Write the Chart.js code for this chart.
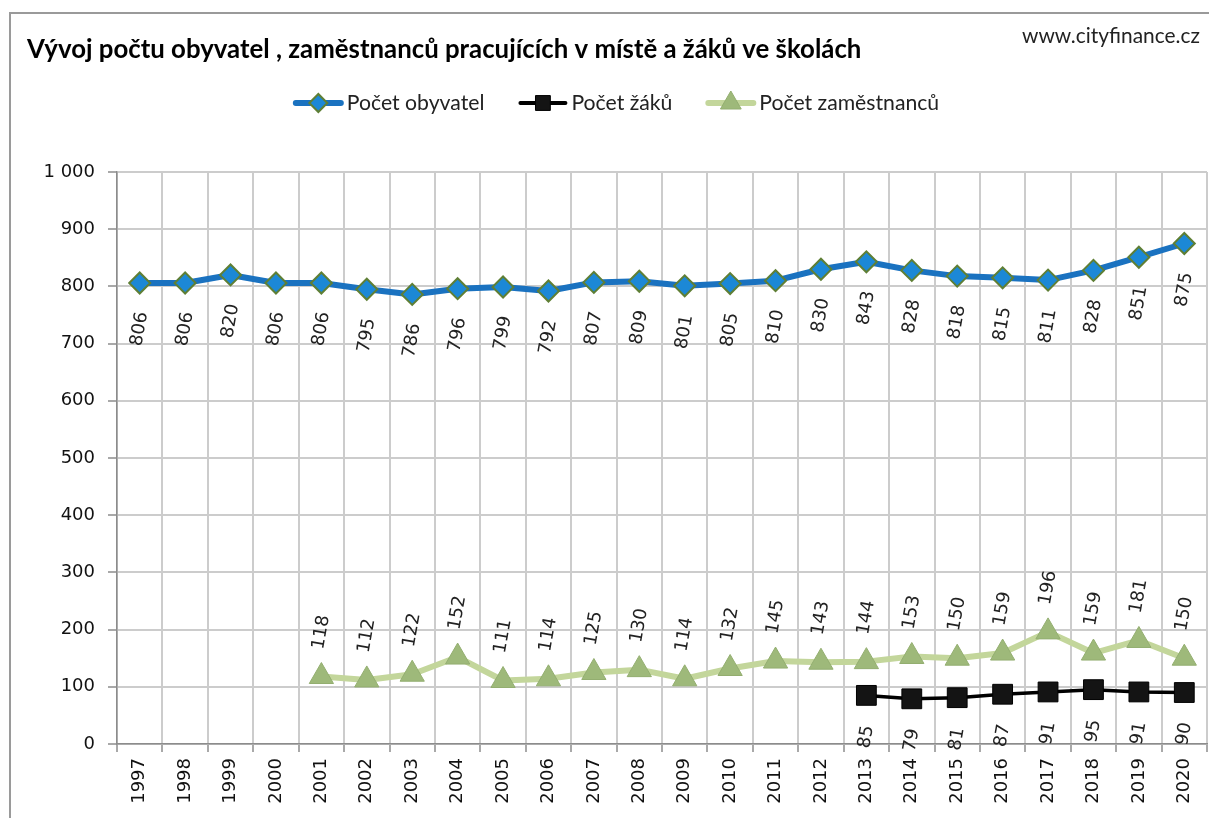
<!DOCTYPE html>
<html>
<head>
<meta charset="utf-8">
<script src="https://cdn.jsdelivr.net/npm/chart.js@4.4.1/dist/chart.umd.min.js"></script>
<style>
html,body{margin:0;padding:0;overflow:hidden;background:#fff;width:1209px;height:818px}
#wrap{position:absolute;left:0;top:0;width:1222px;height:818px}
canvas{display:block}
</style>
</head>
<body>
<div id="wrap"><canvas id="c" width="1222" height="818"></canvas></div>
<script>
// ---- data ----
const years = ['1997','1998','1999','2000','2001','2002','2003','2004','2005','2006','2007','2008',
               '2009','2010','2011','2012','2013','2014','2015','2016','2017','2018','2019','2020'];
const obyvatel = [806,806,820,806,806,795,786,796,799,792,807,809,801,805,810,830,843,828,818,815,811,828,851,875];
const zaci = [null,null,null,null,null,null,null,null,null,null,null,null,null,null,null,null,85,79,81,87,91,95,91,90];
const zamestnanci = [null,null,null,null,118,112,122,152,111,114,125,130,114,132,145,143,144,153,150,159,196,159,181,150];
const yTickValues = [0,100,200,300,400,500,600,700,800,900,1000];
const yTickLabels = ['0','100','200','300','400','500','600','700','800','900','1 000'];
const seriesNames = ['Počet obyvatel','Počet žáků','Počet zaměstnanců'];
const titleText = 'Vývoj počtu obyvatel , zaměstnanců pracujících v místě a žáků ve školách';
const sourceText = 'www.cityfinance.cz';

// ---- helpers ----
const mctx = document.createElement('canvas').getContext('2d');
function fitSize(text, weight, family, targetW) {
  mctx.font = weight + ' 100px ' + family;
  return 100 * targetW / mctx.measureText(text).width;
}
const titleSize = fitSize(titleText, 'bold', 'Lato', 835);
const legendSize = fitSize(seriesNames[2], 'normal', 'Lato', 180);
const sourceSize = fitSize(sourceText, 'normal', 'Lato', 178);

const labelCfg = [
  {place: 'below', gap: 29},
  {place: 'below', gap: 30},
  {place: 'above', gap: 27}
];
const legendMarks = [
  {radius: 9, lineW: 6},
  {radius: 10.5, lineW: 4},
  {radius: 12, lineW: 6}
];

const decorPlugin = {
  id: 'decor',
  beforeDraw(chart) {
    const ctx = chart.ctx;
    ctx.save();
    ctx.strokeStyle = '#9a9a9a';
    ctx.lineWidth = 2;
    ctx.beginPath();
    ctx.moveTo(10, 818);
    ctx.lineTo(10, 13);
    ctx.lineTo(1222, 13);
    ctx.stroke();
    ctx.restore();
  },
  afterDatasetsDraw(chart) {
    const ctx = chart.ctx;
    ctx.save();
    ctx.font = '18px "DejaVu Sans"';
    ctx.fillStyle = '#222';
    ctx.textAlign = 'center';
    ctx.textBaseline = 'middle';
    chart.data.datasets.forEach((ds, i) => {
      const meta = chart.getDatasetMeta(i);
      const cfg = labelCfg[i];
      meta.data.forEach((pt, j) => {
        const v = ds.data[j];
        if (v === null || v === undefined) return;
        const txt = String(v);
        const L = ctx.measureText(txt).width;
        const cy = cfg.place === 'below' ? pt.y + cfg.gap + L / 2 : pt.y - cfg.gap - L / 2;
        ctx.save();
        ctx.translate(pt.x, cy);
        ctx.rotate(-80 * Math.PI / 180);
        ctx.fillText(txt, 0, 0);
        ctx.restore();
      });
    });
    ctx.restore();
  },
  afterDraw(chart) {
    const ctx = chart.ctx;
    ctx.save();
    // title
    ctx.fillStyle = '#000';
    ctx.textBaseline = 'middle';
    ctx.textAlign = 'left';
    ctx.font = 'bold ' + titleSize + 'px Lato';
    ctx.fillText(titleText, 27, 50);
    // source
    ctx.fillStyle = '#222';
    ctx.font = sourceSize + 'px Lato';
    ctx.fillText(sourceText, 1022, 36);
    // legend
    ctx.font = legendSize + 'px Lato';
    const lineLen = 49, gapText = 4, gapItem = 34;
    const widths = seriesNames.map(n => lineLen + gapText + ctx.measureText(n).width);
    const total = widths.reduce((a, b) => a + b, 0) + gapItem * (widths.length - 1);
    let x = 616.5 - total / 2;
    const y = 103;
    chart.data.datasets.forEach((ds, i) => {
      const lm = legendMarks[i];
      ctx.strokeStyle = ds.borderColor;
      ctx.lineWidth = lm.lineW;
      ctx.lineCap = 'round';
      ctx.beginPath();
      ctx.moveTo(x + 2, y);
      ctx.lineTo(x + lineLen - 2, y);
      ctx.stroke();
      ctx.lineCap = 'butt';
      ctx.fillStyle = ds.pointBackgroundColor;
      ctx.strokeStyle = ds.pointBorderColor;
      ctx.lineWidth = ds.pointBorderWidth;
      Chart.helpers.drawPoint(ctx, {pointStyle: ds.pointStyle, radius: lm.radius, rotation: 0, borderWidth: ds.pointBorderWidth}, x + lineLen / 2, y);
      ctx.fillStyle = '#222';
      ctx.fillText(ds.label, x + lineLen + gapText, y);
      x += widths[i] + gapItem;
    });
    ctx.restore();
  }
};

new Chart(document.getElementById('c'), {
  type: 'line',
  data: {
    labels: years,
    datasets: [
      {
        label: seriesNames[0], data: obyvatel,
        borderColor: '#1a72c0', borderWidth: 6,
        pointStyle: 'rectRot', pointRadius: 10.5,
        pointBackgroundColor: '#1c88d6', pointBorderColor: '#5f7f35', pointBorderWidth: 2
      },
      {
        label: seriesNames[1], data: zaci,
        borderColor: '#000000', borderWidth: 3.5,
        pointStyle: 'rect', pointRadius: 14,
        pointBackgroundColor: '#141414', pointBorderColor: '#000000', pointBorderWidth: 1
      },
      {
        label: seriesNames[2], data: zamestnanci,
        borderColor: '#c3d69b', borderWidth: 6,
        pointStyle: 'triangle', pointRadius: 14,
        pointBackgroundColor: '#9eb97a', pointBorderColor: '#93ae70', pointBorderWidth: 1
      }
    ]
  },
  options: {
    responsive: false,
    animation: false,
    devicePixelRatio: 1,
    layout: {padding: {top: 172, left: 0, right: 0, bottom: 0}},
    plugins: {
      legend: {display: false},
      title: {display: false},
      tooltip: {enabled: false}
    },
    elements: {line: {tension: 0, borderJoinStyle: 'round'}},
    scales: {
      x: {
        type: 'category',
        offset: true,
        grid: {offset: true, color: '#cccccc', lineWidth: 2, tickLength: 8, tickColor: '#8c8c8c', tickWidth: 1.5},
        border: {color: '#8c8c8c', width: 1.5},
        ticks: {minRotation: 90, maxRotation: 90, autoSkip: false, padding: 6,
                color: '#111', font: {family: 'DejaVu Sans', size: 18}},
        afterFit(s) { s.height = 74; }
      },
      y: {
        min: 0, max: 1000,
        afterBuildTicks(s) { s.ticks = yTickValues.map(v => ({value: v})); },
        grid: {color: '#cccccc', lineWidth: 2, tickLength: 9, tickColor: '#8c8c8c', tickWidth: 1.5},
        border: {color: '#8c8c8c', width: 1.5},
        ticks: {padding: 13, color: '#111', font: {family: 'DejaVu Sans', size: 18},
                callback: (v) => yTickLabels[yTickValues.indexOf(v)]},
        afterFit(s) { s.width = 117; }
      }
    }
  },
  plugins: [decorPlugin]
});
</script>
</body>
</html>
